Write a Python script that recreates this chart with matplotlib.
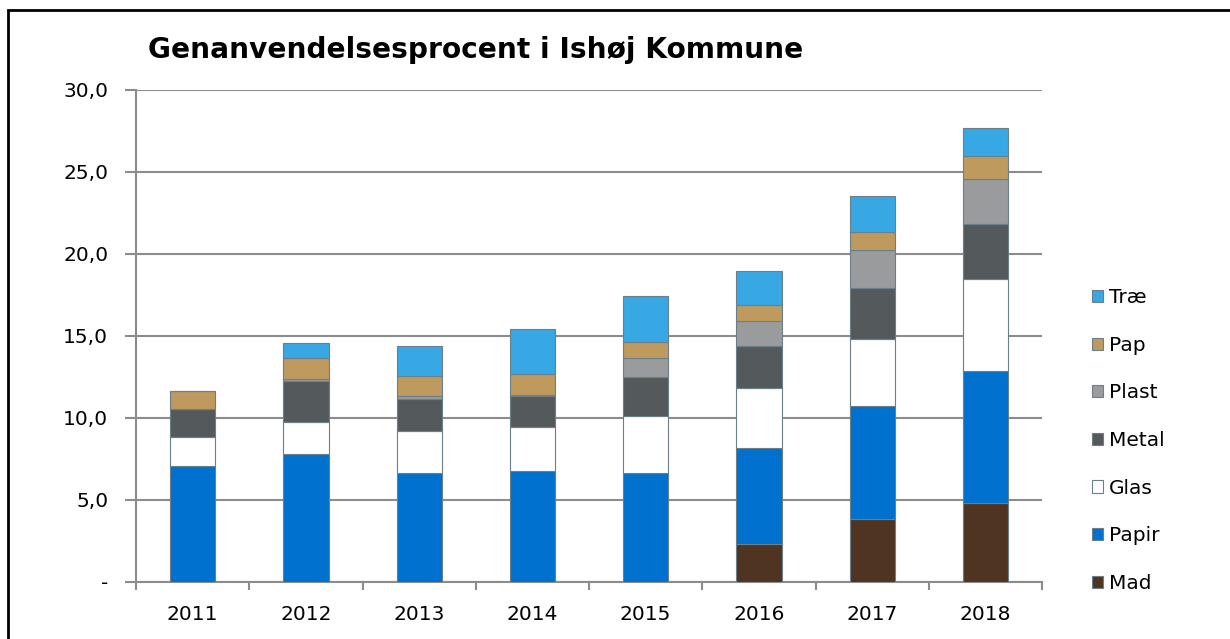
import matplotlib.pyplot as plt
import numpy as np
from matplotlib.ticker import FuncFormatter
from matplotlib.patches import Rectangle

years = ["2011", "2012", "2013", "2014", "2015", "2016", "2017", "2018"]

# andele i procent, nedefra og op
mad = [0.0, 0.0, 0.0, 0.0, 0.0, 2.31, 3.85, 4.77]
papir = [7.06, 7.76, 6.66, 6.74, 6.66, 5.87, 6.89, 8.11]
glas = [1.77, 2.01, 2.56, 2.72, 3.46, 3.66, 4.05, 5.58]
metal = [1.73, 2.46, 1.95, 1.87, 2.39, 2.56, 3.15, 3.36]
plast = [0.0, 0.12, 0.16, 0.08, 1.16, 1.48, 2.32, 2.74]
pap = [1.07, 1.30, 1.22, 1.26, 0.93, 1.00, 1.09, 1.43]
trae = [0.0, 0.89, 1.85, 2.77, 2.83, 2.10, 2.16, 1.72]

series = [
    ("Mad", mad, "#4f3521"),
    ("Papir", papir, "#0071ce"),
    ("Glas", glas, "#ffffff"),
    ("Metal", metal, "#54595c"),
    ("Plast", plast, "#999b9d"),
    ("Pap", pap, "#be9a5e"),
    ("Træ", trae, "#37a8e3"),
]

plt.rcParams['font.family'] = ['DejaVu Sans']

fig = plt.figure(figsize=(12.3, 6.39), dpi=100)
ax = fig.add_axes([0.1106, 0.0897, 0.7366, 0.7695])

x = np.arange(len(years))
bottom = np.zeros(len(years))
handles = []
for name, vals, col in series:
    vals = np.array(vals)
    b = ax.bar(x, vals, 0.4, bottom=bottom, color=col, edgecolor="#6b7f8a",
               linewidth=0.8, label=name, zorder=3)
    handles.append(b)
    bottom += vals

ax.set_xlim(-0.5, len(years) - 0.5)
ax.set_ylim(0, 30)
ax.set_yticks(np.arange(0, 31, 5))
ax.yaxis.set_major_formatter(FuncFormatter(
    lambda v, p: "-" if v == 0 else ("%.1f" % v).replace(".", ",")))
ax.yaxis.grid(True, color="#8c8c8c", linewidth=1.5, zorder=0)
ax.tick_params(axis="y", length=8, width=1.5, color="#8c8c8c",
               labelsize=14.5, pad=12)

ax.set_xticks(x)
ax.set_xticklabels(years)
ax.set_xticks(np.arange(-0.5, len(years), 1), minor=True)
ax.tick_params(axis="x", which="major", length=0, labelsize=14.5, pad=17)
ax.tick_params(axis="x", which="minor", length=6, width=1.5, color="#8c8c8c")

for s in ["top", "right"]:
    ax.spines[s].set_visible(False)
for s in ["left", "bottom"]:
    ax.spines[s].set_color("#8c8c8c")
    ax.spines[s].set_linewidth(1.5)

fig.text(0.1203, 0.91, "Genanvendelsesprocent i Ishøj Kommune",
         fontsize=20.2, fontweight="bold", va="baseline")

leg = fig.legend(handles[::-1], [s[0] for s in series][::-1],
                 loc="center left", bbox_to_anchor=(0.8795, 0.3106),
                 frameon=False, fontsize=14.5, handlelength=0.55,
                 handleheight=0.55, handletextpad=0.3, labelspacing=1.42,
                 borderpad=0)

# ramme rundt om diagrammet
fig.patches.append(Rectangle((8 / 1230, -0.05), 1.1, 1 - 10 / 639 + 0.05,
                             transform=fig.transFigure, fill=False,
                             edgecolor="black", linewidth=2))

fig.savefig("out.png", dpi=100)
